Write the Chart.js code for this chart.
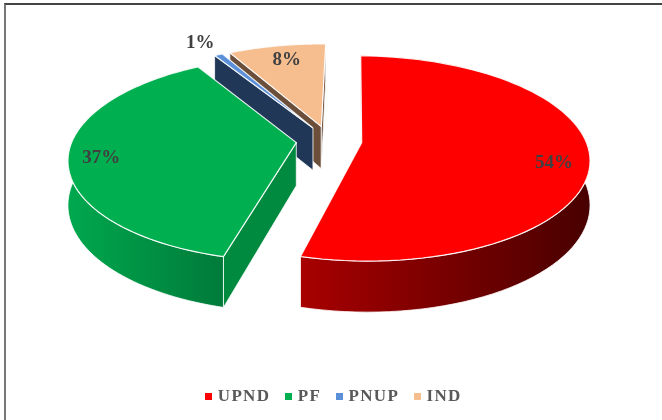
<!DOCTYPE html>
<html><head><meta charset="utf-8">
<style>html,body{margin:0;padding:0;background:#fff;overflow:hidden}canvas{display:block}
#f{position:absolute;left:4px;top:3px;width:662px;height:420px;border-top:2px solid #444;border-left:2px solid #777;box-sizing:border-box}</style>
</head><body>
<canvas id="c" width="662" height="420"></canvas><div id="f"></div>
<script src="https://cdn.jsdelivr.net/npm/chart.js@4"></script>
<script>
const categories = ['UPND','PF','PNUP','IND'];
const shares = [53.8,37.3,0.7,8.2];
const faceColors = ['#FF0000','#00B050','#5B8FD8','#F6BD8E'];
const wallLeft = ['#A80000','#00A84E','#203758','#6B4F3A'];
const wallRight = ['#480000','#007A3A','#203758','#6B4F3A'];
const cutColors = ['#8B0000','#008A40','#203758','#6B4F3A'];

const CX=329, CY=140.5, RX=224, RY=99.5, PERSP=0.155, DEPTH=43, EXPLODE=0.147;
const labelReach=[0.85,0.87,1.1,0.8];
const labelNudge=[[-1,9],[3,3],[-10,-5],[2,0]];
function proj(wx,wy,h){const k=1/(1-PERSP*wy);return [CX+RX*wx*k, CY+RY*wy*k+h*k];}
function swatch(color){const c=document.createElement('canvas');c.width=7;c.height=7;const x=c.getContext('2d');x.fillStyle=color;x.fillRect(0,0,7,7);return c;}

const pie3d={id:'pie3d',
 beforeUpdate(chart){chart.ctx.letterSpacing='1.3px';},
 beforeDatasetDraw(chart){
  const ctx=chart.ctx, arcs=chart.getDatasetMeta(0).data;
  [3,2,1,0].forEach(i=>{
   const a=arcs[i], s=a.startAngle, e=a.endAngle, m=(s+e)/2;
   const ox=Math.cos(m)*EXPLODE, oy=Math.sin(m)*EXPLODE, N=80;
   const rim=[];for(let j=0;j<=N;j++){const t=s+(e-s)*j/N;rim.push([ox+Math.cos(t),oy+Math.sin(t)]);}
   const path=(pts)=>{ctx.beginPath();pts.forEach((p,j)=>j?ctx.lineTo(p[0],p[1]):ctx.moveTo(p[0],p[1]));ctx.closePath();};
   const top=rim.map(p=>proj(p[0],p[1],0)), bot=rim.map(p=>proj(p[0],p[1],DEPTH));
   const apexT=proj(ox,oy,0), apexB=proj(ox,oy,DEPTH);
   const xs=top.map(p=>p[0]);const g=ctx.createLinearGradient(Math.min(...xs),0,Math.max(...xs),0);
   g.addColorStop(0,wallLeft[i]);g.addColorStop(1,wallRight[i]);
   ctx.fillStyle=g;ctx.strokeStyle='rgba(255,255,255,.8)';ctx.lineWidth=1;
   path(top.concat(bot.slice().reverse()));ctx.fill();ctx.stroke();
   const cross=(p,q,r)=>(q[0]-p[0])*(r[1]-p[1])-(q[1]-p[1])*(r[0]-p[0]);
   const inner=top[N/2];
   [[top[0],bot[0]],[top[N],bot[N]]].forEach(([rt,rb])=>{
     const side=cross(apexT,rt,inner), wall=cross(apexT,rt,apexB);
     if(side*wall<0){ctx.fillStyle=cutColors[i];path([apexT,rt,rb,apexB]);ctx.fill();ctx.stroke();}
   });
   ctx.fillStyle=faceColors[i];ctx.strokeStyle='rgba(255,255,255,.9)';ctx.lineWidth=1.2;
   path([apexT].concat(top));ctx.fill();ctx.stroke();
  });
  ctx.save();ctx.letterSpacing='0px';ctx.font='bold 19px "Liberation Serif"';ctx.fillStyle='#404040';ctx.textAlign='center';ctx.textBaseline='middle';
  arcs.forEach((a,i)=>{const m=(a.startAngle+a.endAngle)/2,f=labelReach[i]+EXPLODE;
   const p=proj(Math.cos(m)*f,Math.sin(m)*f,0);
   ctx.fillText(Math.round(shares[i])+'%',p[0]+labelNudge[i][0],p[1]+labelNudge[i][1]);});
  ctx.restore();
  return false;
 }};

new Chart(document.getElementById('c'),{type:'pie',
 data:{labels:categories,datasets:[{data:shares,backgroundColor:faceColors,borderColor:'#fff'}]},
 options:{responsive:false,animation:false,rotation:1,layout:{padding:{bottom:5,left:8}},
  plugins:{tooltip:{enabled:false},
   legend:{position:'bottom',labels:{usePointStyle:true,pointStyleWidth:1,boxHeight:7,padding:18,color:'#595959',font:{family:'"Liberation Serif"',size:17,weight:'bold'},
    generateLabels(chart){return Chart.overrides.pie.plugins.legend.labels.generateLabels(chart).map((it,i)=>({...it,pointStyle:swatch(faceColors[i])}));}}}}},
 plugins:[pie3d]});
</script></body></html>
